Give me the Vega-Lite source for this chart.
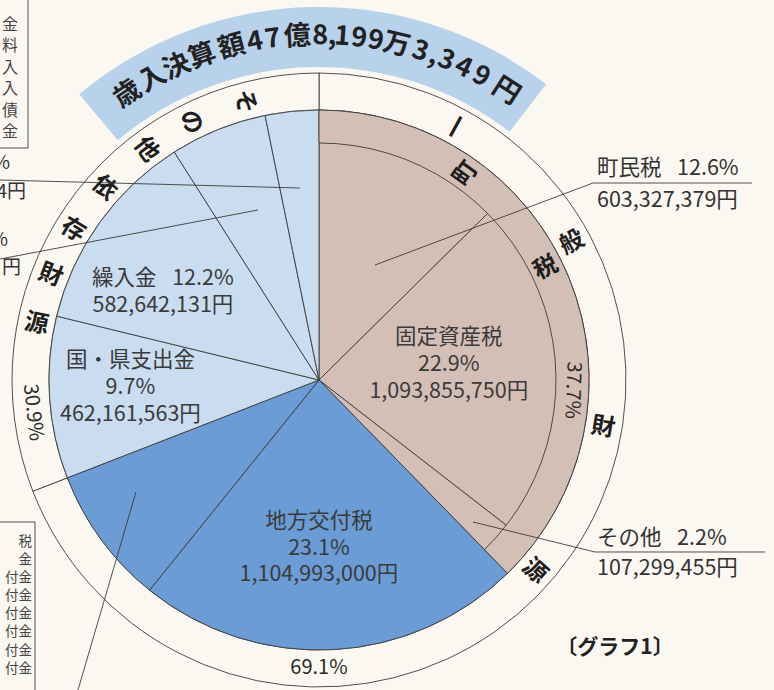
{
  "$schema": "https://vega.github.io/schema/vega-lite/v6.json",
  "autosize": "none",
  "width": 638,
  "height": 620,
  "padding": {"left": 0, "top": 70, "right": 136, "bottom": 0},
  "background": "#fbf8f1",
  "config": {"view": {"stroke": null}, "font": "Noto Sans CJK JP", "text": {"font": "Noto Sans CJK JP"}},
  "resolve": {"scale": {"angle": "independent"}},
  "datasets": {
    "slices": [
      {"order": 1, "name": "町民税", "pct": 12.6, "yen": 603327379, "kind": "町税", "label": "町民税\n12.6%\n603,327,379円"},
      {"order": 2, "name": "固定資産税", "pct": 22.9, "yen": 1093855750, "kind": "町税", "label": "固定資産税\n22.9%\n1,093,855,750円"},
      {"order": 3, "name": "その他", "pct": 2.2, "yen": 107299455, "kind": "町税", "label": "その他\n2.2%\n107,299,455円"},
      {"order": 4, "name": "地方交付税", "pct": 23.1, "yen": 1104993000, "kind": "交付税・交付金", "label": "地方交付税\n23.1%\n1,104,993,000円"},
      {"order": 5, "name": "譲与税・交付金等", "pct": 8.3, "yen": null, "kind": "交付税・交付金", "label": ""},
      {"order": 6, "name": "国・県支出金", "pct": 9.7, "yen": 462161563, "kind": "その他依存財源", "label": "国・県支出金\n9.7%\n462,161,563円"},
      {"order": 7, "name": "繰入金", "pct": 12.2, "yen": 582642131, "kind": "その他依存財源", "label": "繰入金\u2002 12.2%\n582,642,131円"},
      {"order": 8, "name": "その他依存財源A", "pct": 5.8, "yen": null, "kind": "その他依存財源", "label": ""},
      {"order": 9, "name": "その他依存財源B", "pct": 3.2, "yen": null, "kind": "その他依存財源", "label": ""}
    ],
    "ring": [
      {"order": 1, "ring": "一般財源", "share": 69.1},
      {"order": 2, "ring": "その他依存財源", "share": 30.9}
    ],
    "band": [
      {"band": "町税", "share": 37.7}
    ],
    "ringText": [
      {"g": "title", "t": "歳", "a": 90.61, "r": 1.244},
      {"g": "title", "t": "入", "a": 91.97, "r": 1.244},
      {"g": "title", "t": "決", "a": 93.22, "r": 1.244},
      {"g": "title", "t": "算", "a": 94.5, "r": 1.244},
      {"g": "title", "t": "額", "a": 95.92, "r": 1.244},
      {"g": "title", "t": "4", "a": 97.03, "r": 1.244},
      {"g": "title", "t": "7", "a": 97.86, "r": 1.244},
      {"g": "title", "t": "億", "a": 99.0, "r": 1.244},
      {"g": "title", "t": "8", "a": 0.06, "r": 1.244},
      {"g": "title", "t": ",", "a": 0.61, "r": 1.244},
      {"g": "title", "t": "1", "a": 1.08, "r": 1.244},
      {"g": "title", "t": "9", "a": 1.86, "r": 1.244},
      {"g": "title", "t": "9", "a": 2.64, "r": 1.244},
      {"g": "title", "t": "万", "a": 3.61, "r": 1.244},
      {"g": "title", "t": "3", "a": 4.75, "r": 1.244},
      {"g": "title", "t": ",", "a": 5.42, "r": 1.244},
      {"g": "title", "t": "3", "a": 6.03, "r": 1.244},
      {"g": "title", "t": "4", "a": 6.89, "r": 1.244},
      {"g": "title", "t": "9", "a": 7.81, "r": 1.244},
      {"g": "title", "t": "円", "a": 9.14, "r": 1.244},
      {"g": "vr", "t": "一", "a": 8.0, "r": 1.0667},
      {"g": "vr", "t": "般", "a": 17.11, "r": 1.0667},
      {"g": "vr", "t": "財", "a": 27.64, "r": 1.0667},
      {"g": "vr", "t": "源", "a": 36.56, "r": 1.0667},
      {"g": "vr", "t": "町", "a": 9.86, "r": 0.937},
      {"g": "vr", "t": "税", "a": 17.72, "r": 0.937},
      {"g": "vl", "t": "そ", "a": 95.83, "r": 1.0667},
      {"g": "vl", "t": "の", "a": 92.64, "r": 1.0667},
      {"g": "vl", "t": "他", "a": 89.75, "r": 1.0667},
      {"g": "vl", "t": "依", "a": 86.6, "r": 1.0667},
      {"g": "vl", "t": "存", "a": 83.7, "r": 1.0667},
      {"g": "vl", "t": "財", "a": 80.9, "r": 1.0667},
      {"g": "vl", "t": "源", "a": 78.1, "r": 1.0667},
      {"g": "num", "t": "37.7%", "a": 25.64, "r": 0.94},
      {"g": "numb", "t": "30.9%", "a": 73.2, "r": 1.0667},
      {"g": "numb", "t": "69.1%", "a": 50.0, "r": 1.0667}
    ],
    "lines": [
      {"x": 0.2074, "y": -0.4259, "x2": 1.0148, "y2": -0.7296},
      {"x": 1.0148, "y": -0.7296, "x2": 1.6037, "y2": -0.7296},
      {"x": 0.5704, "y": 0.5259, "x2": 1.0222, "y2": 0.637},
      {"x": 1.0222, "y": 0.637, "x2": 1.6519, "y2": 0.637},
      {"x": -1.1815, "y": -0.7407, "x2": -0.0704, "y2": -0.7111},
      {"x": -1.1815, "y": -0.4481, "x2": -0.2259, "y2": -0.6296},
      {"x": -0.8926, "y": 1.1481, "x2": -0.6778, "y2": 0.4148},
      {"x": -1.0778, "y": -1.4074, "x2": -1.0778, "y2": -0.8593},
      {"x": -1.1815, "y": -0.8593, "x2": -1.0778, "y2": -0.8593},
      {"x": -1.0519, "y": 0.5259, "x2": -1.0519, "y2": 1.1481},
      {"x": -1.1815, "y": 0.5259, "x2": -1.0519, "y2": 0.5259}
    ],
    "callouts": [
      {"t": "町民税\u2002 12.6%", "x": 1.0296, "y": -0.7815},
      {"t": "603,327,379円", "x": 1.0296, "y": -0.663},
      {"t": "その他\u2002 2.2%", "x": 1.0296, "y": 0.5889},
      {"t": "107,299,455円", "x": 1.0296, "y": 0.7}
    ],
    "fragments": [
      {"t": "%", "x": -1.1444, "y": -0.8037},
      {"t": "4円", "x": -1.0852, "y": -0.6963},
      {"t": "%", "x": -1.1519, "y": -0.5185},
      {"t": "円", "x": -1.1037, "y": -0.4148}
    ],
    "columns": [
      {"t": "金\n料\n入\n入\n債\n金", "x": -1.1444, "y": -1.3148}
    ],
    "columnsRight": [
      {"t": "税\n金\n付金\n付金\n付金\n付金\n付金\n付金", "x": -1.063, "y": 0.6}
    ],
    "caption": [
      {"t": "〔グラフ1〕", "x": 1.0963, "y": 0.9926}
    ]
  },
  "layer": [
    {
      "data": {"values": [{"band": "title"}]},
      "mark": {"type": "arc", "innerRadius": 313, "outerRadius": 373, "fill": "#b9d2ec"},
      "encoding": {
        "theta": {"datum": 88.89, "type": "quantitative", "scale": {"domain": [0, 100]}},
        "theta2": {"datum": 110.42}
      }
    },
    {
      "data": {"name": "ring"},
      "mark": {"type": "arc", "innerRadius": 270, "outerRadius": 307, "fill": "#fbf8f1", "stroke": "#3c3c3c", "strokeWidth": 0.9},
      "encoding": {
        "theta": {"field": "share", "type": "quantitative", "stack": true, "scale": {"domain": [0, 100]}},
        "order": {"field": "order"}
      }
    },
    {
      "data": {"name": "slices"},
      "mark": {"type": "arc", "outerRadius": 270, "stroke": "#3c3c3c", "strokeWidth": 0.9},
      "encoding": {
        "theta": {"field": "pct", "type": "quantitative", "stack": true, "scale": {"domain": [0, 100]}},
        "order": {"field": "order"},
        "color": {"field": "kind", "type": "nominal", "legend": null,
          "scale": {"domain": ["町税", "交付税・交付金", "その他依存財源"], "range": ["#d4bfb6", "#6b9cd5", "#c9dcf0"]}}
      }
    },
    {
      "data": {"name": "band"},
      "mark": {"type": "arc", "innerRadius": 237, "outerRadius": 270, "fill": "#d4bfb6", "stroke": "#3c3c3c", "strokeWidth": 0.9},
      "encoding": {
        "theta": {"field": "share", "type": "quantitative", "stack": true, "scale": {"domain": [0, 100]}}
      }
    },
    {
      "data": {"name": "slices"},
      "mark": {"type": "text", "radius": 128, "dx": 2, "dy": -34, "fontSize": 21.5, "lineBreak": "\n", "lineHeight": 26.8, "fill": "#3a3a3a", "align": "center", "baseline": "middle"},
      "encoding": {
        "theta": {"field": "pct", "type": "quantitative", "stack": true, "scale": {"domain": [0, 100]}},
        "order": {"field": "order"},
        "text": {"condition": {"test": "datum.name === '固定資産税'", "field": "label"}, "value": ""}
      }
    },
    {
      "data": {"name": "slices"},
      "mark": {"type": "text", "radius": 168, "dx": -8, "dy": -26, "fontSize": 21.5, "lineBreak": "\n", "lineHeight": 26.8, "fill": "#3a3a3a", "align": "center", "baseline": "middle"},
      "encoding": {
        "theta": {"field": "pct", "type": "quantitative", "stack": true, "scale": {"domain": [0, 100]}},
        "order": {"field": "order"},
        "text": {"condition": {"test": "datum.name === '地方交付税'", "field": "label"}, "value": ""}
      }
    },
    {
      "data": {"name": "slices"},
      "mark": {"type": "text", "radius": 165, "dx": -22, "dy": -5, "fontSize": 21.5, "lineBreak": "\n", "lineHeight": 26.8, "fill": "#3a3a3a", "align": "center", "baseline": "middle"},
      "encoding": {
        "theta": {"field": "pct", "type": "quantitative", "stack": true, "scale": {"domain": [0, 100]}},
        "order": {"field": "order"},
        "text": {"condition": {"test": "datum.name === '繰入金'", "field": "label"}, "value": ""}
      }
    },
    {
      "data": {"name": "slices"},
      "mark": {"type": "text", "radius": 189, "dy": -31, "fontSize": 21.5, "lineBreak": "\n", "lineHeight": 26.8, "fill": "#3a3a3a", "align": "center", "baseline": "middle"},
      "encoding": {
        "theta": {"field": "pct", "type": "quantitative", "stack": true, "scale": {"domain": [0, 100]}},
        "order": {"field": "order"},
        "text": {"condition": {"test": "datum.name === '国・県支出金'", "field": "label"}, "value": ""}
      }
    },
    {
      "data": {"name": "ringText"},
      "transform": [{"filter": "datum.g === 'title'"}],
      "mark": {"type": "text", "fontSize": 27, "fontWeight": "bold", "fill": "#222222", "align": "center", "baseline": "alphabetic"},
      "encoding": {
        "theta": {"field": "a", "type": "quantitative", "scale": {"domain": [0, 100]}},
        "radius": {"field": "r", "type": "quantitative", "scale": {"type": "linear", "domain": [0, 1], "range": [0, 270]}},
        "angle": {"field": "a", "type": "quantitative", "scale": {"domain": [0, 100], "range": [0, 360]}},
        "text": {"field": "t"}
      }
    },
    {
      "data": {"name": "ringText"},
      "transform": [{"filter": "datum.g === 'vr'"}],
      "mark": {"type": "text", "fontSize": 24, "fontWeight": "bold", "fill": "#1e1e1e", "align": "center", "baseline": "middle"},
      "encoding": {
        "theta": {"field": "a", "type": "quantitative", "scale": {"domain": [0, 100]}},
        "radius": {"field": "r", "type": "quantitative", "scale": {"type": "linear", "domain": [0, 1], "range": [0, 270]}},
        "angle": {"field": "a", "type": "quantitative", "scale": {"domain": [0, 100], "range": [-90, 270]}},
        "text": {"field": "t"}
      }
    },
    {
      "data": {"name": "ringText"},
      "transform": [{"filter": "datum.g === 'vl'"}],
      "mark": {"type": "text", "fontSize": 24, "fontWeight": "bold", "fill": "#1e1e1e", "align": "center", "baseline": "middle"},
      "encoding": {
        "theta": {"field": "a", "type": "quantitative", "scale": {"domain": [0, 100]}},
        "radius": {"field": "r", "type": "quantitative", "scale": {"type": "linear", "domain": [0, 1], "range": [0, 270]}},
        "angle": {"field": "a", "type": "quantitative", "scale": {"domain": [0, 100], "range": [90, 450]}},
        "text": {"field": "t"}
      }
    },
    {
      "data": {"name": "ringText"},
      "transform": [{"filter": "datum.g === 'num'"}],
      "mark": {"type": "text", "fontSize": 20, "fill": "#2a2a2a", "align": "center", "baseline": "middle"},
      "encoding": {
        "theta": {"field": "a", "type": "quantitative", "scale": {"domain": [0, 100]}},
        "radius": {"field": "r", "type": "quantitative", "scale": {"type": "linear", "domain": [0, 1], "range": [0, 270]}},
        "angle": {"field": "a", "type": "quantitative", "scale": {"domain": [0, 100], "range": [0, 360]}},
        "text": {"field": "t"}
      }
    },
    {
      "data": {"name": "ringText"},
      "transform": [{"filter": "datum.g === 'numb'"}],
      "mark": {"type": "text", "fontSize": 20, "fill": "#2a2a2a", "align": "center", "baseline": "middle"},
      "encoding": {
        "theta": {"field": "a", "type": "quantitative", "scale": {"domain": [0, 100]}},
        "radius": {"field": "r", "type": "quantitative", "scale": {"type": "linear", "domain": [0, 1], "range": [0, 270]}},
        "angle": {"field": "a", "type": "quantitative", "scale": {"domain": [0, 100], "range": [180, 540]}},
        "text": {"field": "t"}
      }
    },
    {
      "data": {"name": "lines"},
      "mark": {"type": "rule", "stroke": "#3c3c3c", "strokeWidth": 0.9},
      "encoding": {
        "x": {"field": "x", "type": "quantitative", "scale": {"domain": [-1.18148, 1.18148], "nice": false, "zero": false}, "axis": null},
        "y": {"field": "y", "type": "quantitative", "scale": {"domain": [-1.14815, 1.14815], "nice": false, "zero": false, "reverse": true}, "axis": null},
        "x2": {"field": "x2"},
        "y2": {"field": "y2"}
      }
    },
    {
      "data": {"name": "callouts"},
      "mark": {"type": "text", "fontSize": 21.5, "fill": "#333333", "align": "left", "baseline": "middle"},
      "encoding": {
        "x": {"field": "x", "type": "quantitative", "scale": {"domain": [-1.18148, 1.18148], "nice": false, "zero": false}, "axis": null},
        "y": {"field": "y", "type": "quantitative", "scale": {"domain": [-1.14815, 1.14815], "nice": false, "zero": false, "reverse": true}, "axis": null},
        "text": {"field": "t"}
      }
    },
    {
      "data": {"name": "fragments"},
      "mark": {"type": "text", "fontSize": 19, "fill": "#333333", "align": "right", "baseline": "middle"},
      "encoding": {
        "x": {"field": "x", "type": "quantitative", "scale": {"domain": [-1.18148, 1.18148], "nice": false, "zero": false}, "axis": null},
        "y": {"field": "y", "type": "quantitative", "scale": {"domain": [-1.14815, 1.14815], "nice": false, "zero": false, "reverse": true}, "axis": null},
        "text": {"field": "t"}
      }
    },
    {
      "data": {"name": "columns"},
      "mark": {"type": "text", "fontSize": 16, "fill": "#444444", "align": "center", "baseline": "middle", "lineBreak": "\n", "lineHeight": 21.4},
      "encoding": {
        "x": {"field": "x", "type": "quantitative", "scale": {"domain": [-1.18148, 1.18148], "nice": false, "zero": false}, "axis": null},
        "y": {"field": "y", "type": "quantitative", "scale": {"domain": [-1.14815, 1.14815], "nice": false, "zero": false, "reverse": true}, "axis": null},
        "text": {"field": "t"}
      }
    },
    {
      "data": {"name": "columnsRight"},
      "mark": {"type": "text", "fontSize": 13.5, "fill": "#444444", "align": "right", "baseline": "middle", "lineBreak": "\n", "lineHeight": 18.1},
      "encoding": {
        "x": {"field": "x", "type": "quantitative", "scale": {"domain": [-1.18148, 1.18148], "nice": false, "zero": false}, "axis": null},
        "y": {"field": "y", "type": "quantitative", "scale": {"domain": [-1.14815, 1.14815], "nice": false, "zero": false, "reverse": true}, "axis": null},
        "text": {"field": "t"}
      }
    },
    {
      "data": {"name": "caption"},
      "mark": {"type": "text", "fontSize": 21, "fontWeight": "bold", "fill": "#222222", "align": "center", "baseline": "middle"},
      "encoding": {
        "x": {"field": "x", "type": "quantitative", "scale": {"domain": [-1.18148, 1.18148], "nice": false, "zero": false}, "axis": null},
        "y": {"field": "y", "type": "quantitative", "scale": {"domain": [-1.14815, 1.14815], "nice": false, "zero": false, "reverse": true}, "axis": null},
        "text": {"field": "t"}
      }
    }
  ]
}
